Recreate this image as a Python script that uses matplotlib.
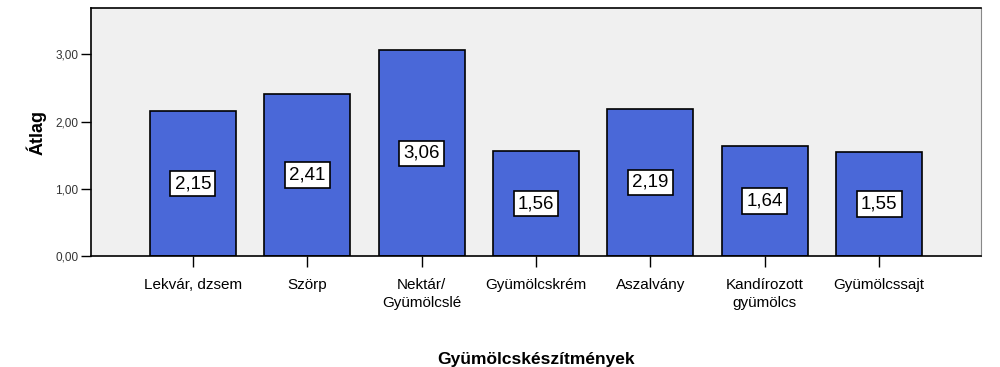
import matplotlib
matplotlib.use('Agg')
from matplotlib import pyplot as plt
from matplotlib.ticker import FuncFormatter

categories = ['Lekvár, dzsem', 'Szörp', 'Nektár/\nGyümölcslé', 'Gyümölcskrém',
              'Aszalvány', 'Kandírozott\ngyümölcs', 'Gyümölcssajt']
values = [2.15, 2.41, 3.06, 1.56, 2.19, 1.64, 1.55]
yticks = [0, 1, 2, 3]

plt.rcParams['font.family'] = ['Liberation Sans', 'DejaVu Sans']

fig = plt.figure(figsize=(10, 3.67), dpi=100)
ax = fig.add_axes([0.091, 0.302, 0.890, 0.676])
ax.set_facecolor('#f0f0f0')

x = range(len(categories))
ax.bar(x, values, width=0.75, color='#4a68d8', edgecolor='black', linewidth=1.2, zorder=2)

for i, v in zip(x, values):
    ax.text(i, v / 2, f'{v:.2f}'.replace('.', ','), ha='center', va='center',
            fontsize=13.5, zorder=3,
            bbox=dict(boxstyle='square,pad=0.22', facecolor='white', edgecolor='black', linewidth=1.2))

ax.set_xlim(-0.89, 6.89)
ax.set_ylim(0, 3.685)
ax.set_xticks(list(x))
ax.set_xticklabels(categories, fontsize=11, linespacing=1.35)
ax.set_yticks(yticks)
ax.yaxis.set_major_formatter(FuncFormatter(lambda v, p: f'{v:.2f}'.replace('.', ',')))
ax.tick_params(axis='y', labelsize=8.5, length=7, width=1, pad=2, labelcolor='#333333')
ax.tick_params(axis='x', length=8, width=1, pad=8)

for s in ['left', 'bottom', 'top']:
    ax.spines[s].set_color('black')
    ax.spines[s].set_linewidth(1.2)
ax.spines['right'].set_color('#888888')

ax.set_ylabel('Átlag', fontsize=13, fontweight='bold', labelpad=6)
ax.set_xlabel('Gyümölcskészítmények', fontsize=12.5, fontweight='bold', labelpad=30)

fig.savefig('out.png', dpi=100)
